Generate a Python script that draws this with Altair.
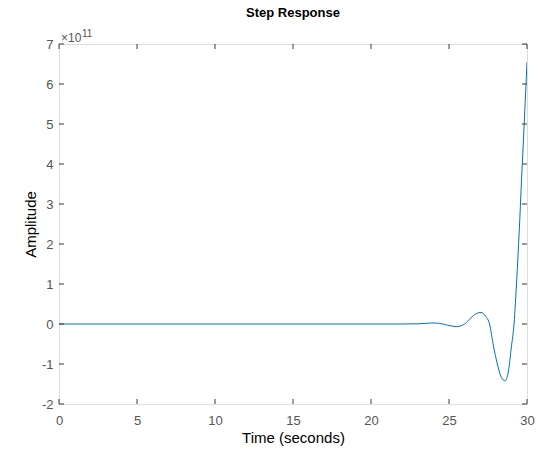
import altair as alt
import pandas as pd

# Step response (amplitude in units of 1e11)
time_s = [0, 5, 10, 15, 20, 22, 23, 23.5, 23.9, 24.4, 24.9, 25.5, 26.0, 26.4,
          26.75, 27.05, 27.35, 27.6, 27.85, 28.1, 28.35, 28.6, 28.8, 29.0,
          29.17, 29.34, 29.5, 29.65, 29.82, 30.0]
amplitude_e11 = [0, 0, 0, 0, 0, 0.0, 0.005, 0.015, 0.025, 0.015, -0.03, -0.065,
                 0.0, 0.15, 0.26, 0.29, 0.19, 0.0, -0.55, -1.0, -1.33, -1.42,
                 -1.2, -0.57, 0.0, 1.1, 2.3, 3.6, 5.0, 6.55]
x_ticks = [0, 5, 10, 15, 20, 25, 30]
y_ticks = [-2, -1, 0, 1, 2, 3, 4, 5, 6, 7]
exponent_base = "×10"
exponent_power = "11"

W, H = 468, 360
AX = "#3a3a3a"
LBL = "#555555"
FONT = "Liberation Sans"

df = pd.DataFrame({"t": time_s, "a": amplitude_e11})
xs = alt.Scale(domain=[0, 30], nice=False, zero=False)
ys = alt.Scale(domain=[-2, 7], nice=False, zero=False)

line = alt.Chart(df).mark_line(
    color="#0072BD", strokeWidth=1, interpolate="monotone", clip=True
).encode(
    x=alt.X("t:Q", scale=xs, axis=alt.Axis(
        values=x_ticks, title="Time (seconds)", ticks=False, tickSize=0,
        domain=False, grid=False, labelFlush=False, labelOverlap=False,
        labelExpr="'' + datum.value",
        labelColor=LBL, labelFont=FONT, labelFontSize=13, labelPadding=10,
        titleFont=FONT, titleFontSize=15, titleFontWeight="normal",
        titleColor="#000000", titleBaseline="alphabetic", titleY=38)),
    y=alt.Y("a:Q", scale=ys, axis=alt.Axis(
        values=y_ticks, title="Amplitude", ticks=False, tickSize=0,
        domain=False, grid=False, labelFlush=False, labelOverlap=False,
        labelExpr="'' + datum.value",
        labelColor=LBL, labelFont=FONT, labelFontSize=13, labelPadding=6,
        titleFont=FONT, titleFontSize=15, titleFontWeight="normal",
        titleColor="#000000", titleBaseline="alphabetic", titleX=-23.5,
        titleAngle=270)),
)

xt = pd.DataFrame({"v": x_ticks})
yt = pd.DataFrame({"v": y_ticks})
TL = 5
xb = alt.Chart(xt).mark_rule(color=AX, strokeWidth=1).encode(
    x=alt.X("v:Q", scale=xs, axis=None), y=alt.value(H), y2=alt.value(H - TL))
xtop = alt.Chart(xt).mark_rule(color=AX, strokeWidth=1).encode(
    x=alt.X("v:Q", scale=xs, axis=None), y=alt.value(0), y2=alt.value(TL))
yl = alt.Chart(yt).mark_rule(color=AX, strokeWidth=1).encode(
    y=alt.Y("v:Q", scale=ys, axis=None), x=alt.value(0), x2=alt.value(TL))
yr = alt.Chart(yt).mark_rule(color=AX, strokeWidth=1).encode(
    y=alt.Y("v:Q", scale=ys, axis=None), x=alt.value(W), x2=alt.value(W - TL))

exp_base = alt.Chart(pd.DataFrame({"s": [exponent_base]})).mark_text(
    align="left", baseline="alphabetic", font=FONT, fontSize=12, color=LBL
).encode(text="s:N", x=alt.value(2), y=alt.value(-2.5))
exp_pow = alt.Chart(pd.DataFrame({"s": [exponent_power]})).mark_text(
    align="left", baseline="alphabetic", font=FONT, fontSize=10, color=LBL
).encode(text="s:N", x=alt.value(23), y=alt.value(-7.5))

chart = alt.layer(line, xb, xtop, yl, yr, exp_base, exp_pow).resolve_axis(
    x="independent", y="independent"
).properties(
    width=W, height=H,
    title=alt.TitleParams("Step Response", font=FONT, fontSize=13,
                          fontWeight="bold", color="#000000", anchor="middle",
                          frame="group", offset=9),
    autosize=alt.AutoSizeParams(type="none"),
    padding={"left": 59, "top": 44, "right": 31, "bottom": 47},
).configure_view(stroke=AX, strokeWidth=1).configure(background="white")

chart.save("out.html", embed_options={"renderer": "svg", "actions": False})
